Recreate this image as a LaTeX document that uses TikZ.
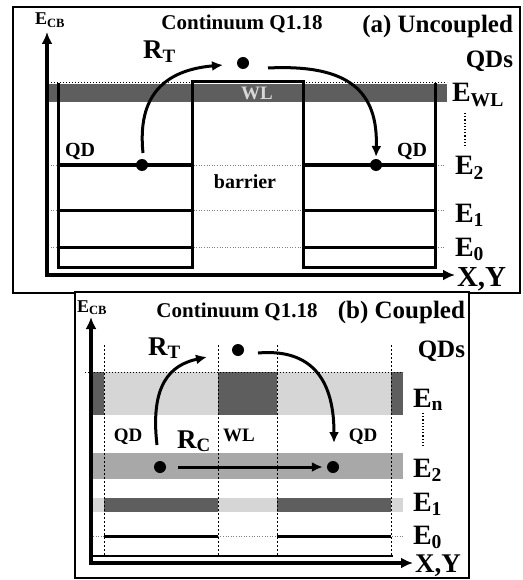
\documentclass[tikz,border=0pt]{standalone}
\usepackage{fontspec}
\setmainfont{Liberation Serif}
\usetikzlibrary{arrows.meta}
\definecolor{dkg}{HTML}{5E5E5E}
\definecolor{ltg}{HTML}{D6D6D6}
\definecolor{mdg}{HTML}{A8A8A8}
\definecolor{wlt}{HTML}{D8D8D8}
\newcommand{\fsz}[1]{\fontsize{#1}{#1}\selectfont\bfseries}
\begin{document}
\begin{tikzpicture}[x=1pt,y=-1pt,
  lab/.style={inner sep=0pt, outer sep=0pt, font=\fsz{20}},
  elab/.style={lab, anchor=base west, font=\fsz{28}},
  dot/.style={circle, fill=black, inner sep=0pt, minimum size=12pt},
  thickline/.style={line width=3pt},
  arr/.style={line width=3pt, -{Latex[length=11pt,width=10pt]}},
  axisline/.style={line width=3.5pt, line join=miter, {Latex[length=12pt,width=11pt]}-{Latex[length=12pt,width=11pt]}},
  frameline/.style={line width=2.5pt},
  lvl/.style={gray, line width=0.6pt, dotted},
  vdash/.style={line width=0.7pt, dash pattern=on 2pt off 2pt},
  topdots/.style={line width=1pt, dotted},
]
\useasboundingbox (0,0) rectangle (522,580);
% ---------------- panel (a) ----------------
\draw[frameline, fill=white] (13,7) rectangle (520,293);
\fill[dkg] (48,84) rectangle (447,102);
\draw[topdots] (48,83) -- (447,83);
\foreach \y in {165,210,247} \draw[lvl] (48,\y) -- (445,\y);
\draw[thickline, line join=miter] (58,83) -- (58,267) -- (192,267) -- (192,82) -- (303,82) -- (303,267) -- (435,267) -- (435,83);
\foreach \y in {165,210,247} {
  \draw[thickline] (58,\y) -- (192,\y);
  \draw[thickline] (303,\y) -- (435,\y);
}
\draw[axisline] (47,32) -- (47,275) -- (455,275);
\node[lab, anchor=base west, font=\fsz{18}] (ecbA) at (35,25) {E\textsubscript{CB}};
\node[lab, anchor=base, font=\fsz{21}] (contA) at (242,30) {Continuum Q1.18};
\node[lab, anchor=base east, font=\fsz{25}] (titA1) at (513,33) {(a) Uncoupled};
\node[lab, anchor=base east, font=\fsz{25}] (titA2) at (513,68) {QDs};
\node[lab, anchor=base west, font=\fsz{27}] (rtA) at (143,59) {R\textsubscript{T}};
\node[lab, anchor=base, font=\fsz{19}, text=wlt] (wlA) at (257,100) {WL};
\node[lab, anchor=base west] (qdA1) at (65,157) {QD};
\node[lab, anchor=base west] (qdA2) at (397,157) {QD};
\node[lab, anchor=base] (barA) at (245,188) {barrier};
\node[elab] (ewlA) at (452,102) {E\textsubscript{WL}};
\node[elab] (e2A) at (455,175) {E\textsubscript{2}};
\node[elab] (e1A) at (455,222) {E\textsubscript{1}};
\node[elab] (e0A) at (455,256) {E\textsubscript{0}};
\node[lab, anchor=base west, font=\fsz{29}] (xyA) at (457,286) {X,Y};
\draw[line width=1.2pt, dotted] (465,113) -- (465,147);
\node[dot] (dA1) at (142,165) {};
\node[dot] (dA2) at (243,63) {};
\node[dot] (dA3) at (376,165) {};
\coordinate (a1s) at (143,153);
\coordinate (a1e) at (223,65);
\coordinate (a2s) at (268,68);
\coordinate (a2e) at (376,157);
\draw[arr] (a1s) .. controls (137,95) and (165,70) .. (a1e);
\draw[arr] (a2s) .. controls (350,64) and (378,92) .. (a2e);
% ---------------- panel (b) ----------------
\draw[frameline, fill=white] (75,292) rectangle (469,578);
\fill[dkg] (93,372) rectangle (403,415);
\fill[ltg] (104,372) rectangle (218,415);
\fill[ltg] (277,372) rectangle (391,415);
\fill[mdg] (93,453) rectangle (403,479);
\fill[ltg] (93,498) rectangle (403,512);
\fill[dkg] (104,498) rectangle (218,512);
\fill[dkg] (277,498) rectangle (391,512);
\draw[lvl] (93,536) -- (403,536);
\draw[thickline] (104,536) -- (218,536);
\draw[thickline] (277,536) -- (391,536);
\draw[topdots] (85,372) -- (403,372);
\foreach \x in {104,218,277,391} \draw[vdash] (\x,345) -- (\x,556);
\draw[line width=2pt] (93,556) -- (393,556);
\draw[axisline] (91,317) -- (91,563) -- (413,563);
\node[lab, anchor=base west, font=\fsz{18}] (ecbB) at (77,312) {E\textsubscript{CB}};
\node[lab, anchor=base, font=\fsz{21}] (contB) at (237,317) {Continuum Q1.18};
\node[lab, anchor=base east, font=\fsz{25}] (titB1) at (465,318) {(b) Coupled};
\node[lab, anchor=base east, font=\fsz{25}] (titB2) at (465,357) {QDs};
\node[lab, anchor=base west, font=\fsz{27}] (rtB) at (148,355) {R\textsubscript{T}};
\node[lab, anchor=base west, font=\fsz{27}] (rcB) at (177,448) {R\textsubscript{C}};
\node[lab, anchor=base, font=\fsz{19}] (qdB1) at (128,441) {QD};
\node[lab, anchor=base, font=\fsz{19}] (wlB) at (239,441) {WL};
\node[lab, anchor=base, font=\fsz{19}] (qdB2) at (363,441) {QD};
\node[elab] (enB) at (413,407) {E\textsubscript{n}};
\node[elab] (e2B) at (413,477) {E\textsubscript{2}};
\node[elab] (e1B) at (413,511) {E\textsubscript{1}};
\node[elab] (e0B) at (413,544) {E\textsubscript{0}};
\node[lab, anchor=base west, font=\fsz{27}] (xyB) at (415,572) {X,Y};
\draw[line width=1.2pt, dotted] (423,413) -- (423,448);
\node[dot] (dB1) at (160,467) {};
\node[dot] (dB2) at (333,467) {};
\node[dot] (dB3) at (238,350) {};
\draw[arr, shorten <=12pt, shorten >=4pt] (dB1) -- (dB2);
\coordinate (b1s) at (157,445);
\coordinate (b1e) at (207,357);
\coordinate (b2s) at (258,353);
\coordinate (b2e) at (334,443);
\draw[arr] (b1s) .. controls (150,385) and (170,365) .. (b1e);
\draw[arr] (b2s) .. controls (305,349) and (334,372) .. (b2e);
\end{tikzpicture}
\end{document}
